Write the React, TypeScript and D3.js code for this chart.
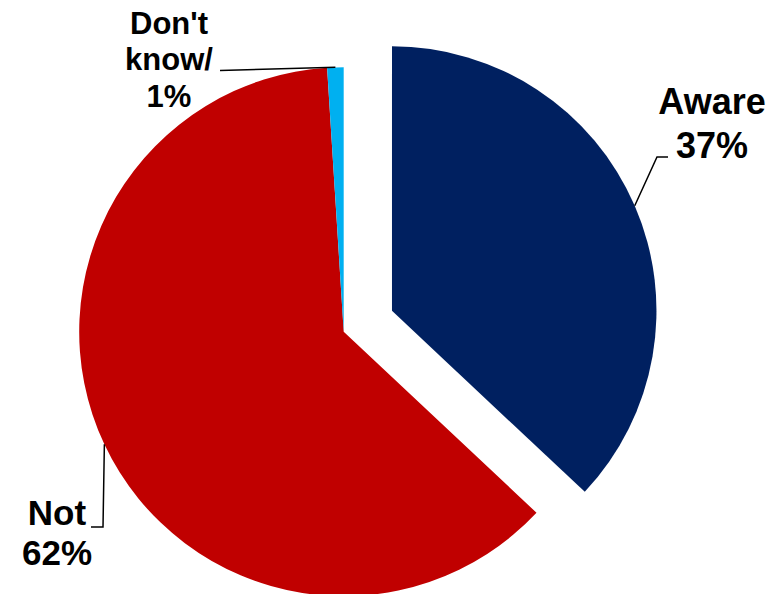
import React from "react";
import * as d3 from "d3";

const categories = ["Aware", "Not", "Don't know/"];
const values = [37, 62, 1];
const percentLabels = ["37%", "62%", "1%"];
const colors = ["#002060", "#C00000", "#00B0F0"];
const exploded = [true, false, false];

const W = 783;
const H = 594;
const CX = 343.7;
const CY = 331.7;
const R = 264.5;
const EXPLODE = 52.6;

// label layout: lines of text, anchor x, first baseline, line spacing, font size, leader path after start
const labelLayout = [
  { x: 712, y: 114, dy: 44, size: 36, elbow: [[657, 157], [668, 157]] },
  { x: 57, y: 525, dy: 40, size: 35, elbow: [[103, 527], [91, 527]] },
  { x: 169, y: 33.5, dy: 36.5, size: 31, elbow: [[220, 70.5]] },
];

export default function App() {
  const pie = d3
    .pie<number>()
    .sort(null)
    .value((d) => d)
    .startAngle(0)
    .endAngle(2 * Math.PI);
  const arcs = pie(values);
  const arcGen = d3.arc<d3.PieArcDatum<number>>().innerRadius(0).outerRadius(R);

  return (
    <svg
      width={W}
      height={H}
      style={{ position: "absolute", left: 0, top: 0, background: "#fff" }}
      fontFamily="'Liberation Sans', Arial, sans-serif"
      fontWeight="bold"
    >
      {arcs.map((a, i) => {
        const mid = (a.startAngle + a.endAngle) / 2;
        const off = exploded[i] ? EXPLODE : 0;
        const ox = CX + off * Math.sin(mid);
        const oy = CY - off * Math.cos(mid);
        return (
          <path
            key={"s" + i}
            d={arcGen(a) || ""}
            transform={`translate(${ox},${oy})`}
            fill={colors[i]}
          />
        );
      })}
      {arcs.map((a, i) => {
        const mid = (a.startAngle + a.endAngle) / 2;
        const off = exploded[i] ? EXPLODE : 0;
        const sx = CX + (off + R) * Math.sin(mid);
        const sy = CY - (off + R) * Math.cos(mid);
        const L = labelLayout[i];
        const pts = [[sx, sy], ...L.elbow];
        const line = d3.line()(pts as [number, number][]) || "";
        const lines = categories[i] === "Don't know/" ? ["Don't", "know/", percentLabels[i]] : [categories[i], percentLabels[i]];
        return (
          <g key={"l" + i}>
            <path d={line} fill="none" stroke="#000" strokeWidth={1.5} />
            <text textAnchor="middle" fontSize={L.size} fill="#000">
              {lines.map((t, j) => (
                <tspan key={j} x={L.x} y={L.y + j * L.dy}>
                  {t}
                </tspan>
              ))}
            </text>
          </g>
        );
      })}
    </svg>
  );
}
